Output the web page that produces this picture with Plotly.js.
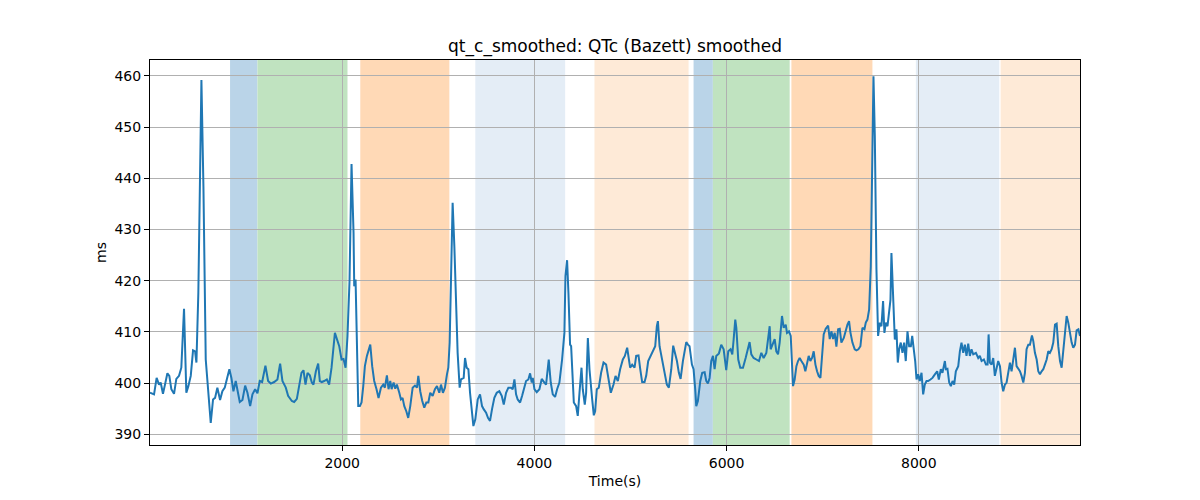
<!DOCTYPE html>
<html>
<head>
<meta charset="utf-8">
<script src="https://cdn.plot.ly/plotly-3.0.1.min.js"></script>
<style>
  body { margin: 0; background: #fff; }
  #myGraph { width: 1200px; height: 500px; }
</style>
</head>
<body>
<div id="myGraph"></div>
<script>
// time axis (s) and smoothed QTc (ms)
let timeS = [
  0, 42, 69, 94, 111, 135, 156, 181, 201, 222, 250, 274, 302, 326, 354, 378, 399, 424, 448, 469,
  483, 503, 535, 556, 580, 604, 632, 656, 677, 701, 729, 753, 778, 799, 826, 847, 868, 892, 913, 934,
  962, 990, 1014, 1042, 1066, 1094, 1118, 1142, 1167, 1201, 1229, 1257, 1292, 1326, 1354, 1378, 1413, 1437, 1476, 1500,
  1528, 1552, 1576, 1597, 1618, 1639, 1663, 1684, 1701, 1726, 1750, 1767, 1788, 1812, 1840, 1864, 1889, 1924, 1944, 1969,
  1993, 2014, 2035, 2055, 2076, 2097, 2118, 2125, 2139, 2153, 2167, 2184, 2201, 2219, 2236, 2257, 2281, 2292, 2312, 2333,
  2357, 2378, 2403, 2427, 2444, 2465, 2482, 2500, 2514, 2535, 2552, 2569, 2594, 2611, 2628, 2646, 2667, 2687, 2708, 2733,
  2757, 2778, 2792, 2812, 2833, 2854, 2875, 2896, 2916, 2941, 2965, 2986, 3010, 3028, 3048, 3069, 3090, 3104, 3118, 3132,
  3149, 3167, 3184, 3201, 3222, 3236, 3264,
  3278, 3295, 3313, 3330, 3347, 3365, 3385, 3410, 3434, 3455, 3472, 3497, 3517, 3538, 3559, 3583, 3608, 3635, 3660, 3681,
  3705, 3729, 3757, 3774, 3792, 3809, 3826, 3851, 3872, 3889, 3913, 3937, 3955, 3972, 3983, 4000, 4024, 4052, 4076, 4104,
  4121, 4149, 4170, 4191, 4215, 4236, 4260, 4288, 4312, 4323, 4340, 4354, 4371, 4382, 4396, 4410, 4434, 4451, 4469, 4490,
  4503, 4524, 4538, 4556, 4573, 4587, 4601, 4618, 4632, 4649, 4670, 4694, 4719, 4746, 4771, 4795, 4823, 4844, 4868, 4892,
  4920, 4941, 4965, 4983, 4996, 5017, 5042, 5059, 5083, 5101, 5121, 5146, 5163, 5184, 5208, 5232, 5257, 5274, 5285, 5302,
  5326, 5354, 5378, 5399, 5424, 5444, 5465, 5483, 5503, 5521, 5545, 5562, 5580, 5597, 5614, 5639, 5656, 5673, 5684, 5701,
  5726, 5746, 5771, 5788, 5805, 5823, 5840, 5858, 5875, 5892, 5920, 5944, 5969, 5996, 6017, 6041, 6059, 6073, 6090, 6101,
  6121, 6142, 6170, 6198, 6222, 6239, 6257, 6281, 6309, 6337, 6361, 6385, 6413, 6430, 6448,
  6458, 6476, 6500, 6517, 6535, 6552, 6576, 6594, 6615, 6628, 6649, 6667, 6681, 6691, 6708, 6726, 6743, 6760, 6778, 6802,
  6819, 6837, 6854, 6871, 6889, 6906, 6924, 6941, 6958, 6976, 6993, 7010, 7031, 7056, 7073, 7090, 7108, 7125, 7142, 7160,
  7177, 7194, 7219, 7240, 7257, 7274, 7288, 7309, 7333, 7351, 7371, 7392, 7413, 7434, 7448, 7465, 7483, 7500, 7514, 7528,
  7542, 7559, 7576, 7594, 7611, 7628, 7642, 7656, 7674, 7691, 7705, 7715, 7726, 7740, 7750, 7767, 7781, 7795, 7812, 7830,
  7847, 7864, 7882, 7899, 7917, 7931, 7948, 7962, 7976, 7993, 8010, 8028, 8045, 8062, 8080, 8097, 8121, 8142, 8167, 8191,
  8208, 8229, 8246, 8271, 8281, 8298, 8316, 8333, 8351, 8368, 8385, 8410, 8427, 8444, 8462, 8479, 8496, 8514, 8531, 8548,
  8566, 8594, 8618, 8635, 8653, 8677, 8698, 8715, 8726, 8739, 8757, 8774, 8791, 8809, 8826, 8844, 8861, 8878, 8896, 8913,
  8930, 8948, 8965, 8982, 9000, 9017, 9035, 9052, 9069, 9087, 9104, 9121, 9139, 9156, 9177, 9191, 9208, 9226, 9243, 9260,
  9278, 9295, 9312, 9330, 9347, 9364, 9382, 9399, 9417, 9434, 9451, 9469, 9486, 9503, 9521, 9538, 9555, 9573, 9590, 9607,
  9625, 9642, 9660, 9677
];

let qtcMs = [
  398.1, 397.8, 401.0, 399.7, 400.1, 397.9, 399.7, 401.9, 401.4, 398.8, 397.9, 400.8, 401.4, 403.0, 414.5, 398.1, 399.4, 401.4, 406.4, 406.2,
  404.0, 417.6, 459.2, 438.4, 404.6, 398.1, 392.2, 396.8, 397.1, 399.1, 396.7, 398.4, 399.1, 400.7, 402.7, 401.0, 398.4, 400.4, 398.1, 396.3,
  396.7, 399.5, 398.1, 395.5, 397.8, 398.8, 398.0, 400.4, 400.2, 403.4, 400.4, 399.9, 400.2, 400.7, 403.8, 400.4, 399.1, 397.5, 396.5, 396.3,
  396.9, 399.4, 402.0, 402.5, 399.7, 402.0, 401.5, 400.1, 399.7, 402.3, 403.8, 400.4, 400.2, 400.4, 400.7, 399.7, 403.0, 409.8, 408.5, 407.2,
  404.6, 404.7, 403.0, 409.2, 419.9, 442.8, 429.3, 418.9, 420.2, 408.5, 395.5, 395.5, 396.2, 399.4, 403.3, 405.3, 407.2, 407.5, 403.3, 400.4,
  398.8, 397.1, 399.1, 399.7, 399.1, 401.5, 398.8, 400.4, 398.8, 400.1, 398.9, 399.7, 398.1, 396.8, 397.1, 395.5, 394.5, 393.2, 395.5, 399.1,
  399.5, 399.1, 401.4, 398.4, 396.5, 395.2, 396.2, 396.2, 398.1, 397.5, 398.8, 399.4, 398.1, 399.7, 398.1, 399.1, 401.7, 403.0, 407.9, 420.2,
  435.2, 426.7, 417.6, 405.9, 399.1, 400.7, 401.0,
  404.9, 403.0, 402.7, 398.1, 394.2, 391.6, 392.9, 396.8, 397.8, 395.5, 394.9, 394.2, 393.2, 392.6, 394.9, 397.1, 398.1, 398.4, 397.5, 395.8,
  398.1, 399.1, 399.1, 398.8, 400.7, 397.8, 396.8, 396.2, 397.5, 398.8, 400.4, 400.7, 401.9, 400.1, 401.0, 398.8, 398.2, 398.8, 400.8, 400.1,
  399.7, 404.6, 400.1, 397.8, 397.3, 398.8, 400.1, 404.6, 409.8, 420.9, 424.0, 417.6, 407.5, 407.2, 401.4, 396.2, 395.5, 393.6, 398.1, 403.0,
  398.8, 395.8, 398.1, 408.8, 402.7, 398.8, 396.8, 393.7, 394.5, 398.8, 399.1, 402.0, 404.0, 403.6, 400.7, 398.1, 399.7, 401.4, 400.4, 402.7,
  404.6, 405.3, 406.9, 404.3, 403.0, 403.6, 403.0, 405.3, 405.4, 402.7, 400.2, 400.2, 401.4, 404.3, 405.3, 406.0, 407.2, 411.1, 412.1, 407.2,
  404.6, 401.7, 399.7, 399.1, 402.7, 407.3, 405.9, 404.3, 402.0, 400.8, 404.3, 406.6, 408.0, 407.5, 407.2, 403.6, 402.7, 398.8, 395.5, 396.5,
  400.4, 402.0, 402.1, 400.4, 399.9, 401.0, 404.3, 405.3, 402.7, 405.3, 405.8, 407.5, 406.6, 402.5, 406.2, 406.6, 405.6, 408.5, 412.4, 410.8,
  404.6, 403.0, 403.0, 404.9, 406.6, 408.0, 405.6, 404.9, 404.6, 404.3, 405.9, 404.9, 405.9, 408.5, 411.1,
  406.6, 407.5, 408.6, 406.2, 405.6, 407.9, 413.1, 410.8, 411.4, 409.8, 410.1, 409.2, 401.4, 399.4, 400.7, 403.3, 404.3, 404.9, 404.3, 403.6,
  402.3, 404.0, 405.3, 404.3, 404.9, 406.2, 403.6, 402.3, 401.4, 401.0, 404.6, 409.5, 410.6, 411.2, 408.6, 410.1, 408.6, 409.8, 407.1, 410.5,
  410.6, 407.9, 408.8, 410.5, 411.4, 412.1, 409.9, 407.9, 406.6, 406.4, 406.6, 407.2, 410.8, 410.5, 411.8, 412.4, 414.4, 422.8, 443.6, 459.9,
  448.2, 422.2, 409.2, 411.8, 411.1, 416.0, 409.8, 411.8, 411.1, 414.0, 416.3, 425.4, 418.9, 411.1, 408.5, 410.5, 404.0, 406.6, 407.9, 405.9,
  407.9, 404.3, 410.1, 407.2, 407.2, 409.2, 406.6, 404.3, 400.7, 401.7, 400.4, 402.0, 397.8, 399.7, 400.4, 400.4, 400.7, 401.0, 401.7, 402.3,
  400.7, 402.7, 402.0, 404.3, 402.7, 402.8, 400.1, 399.4, 400.4, 399.7, 402.3, 403.3, 406.2, 407.9, 405.9, 407.5, 405.3, 407.7, 405.3, 406.6,
  405.6, 405.9, 404.9, 405.3, 404.3, 404.6, 403.6, 403.6, 409.5, 404.0, 403.6, 404.9, 401.4, 403.3, 404.3, 403.3, 400.1, 398.4, 399.7, 400.1,
  402.3, 404.0, 402.3, 404.3, 406.9, 403.3, 402.7, 402.3, 401.4, 400.1, 402.0, 406.6, 407.5, 407.5, 409.3, 408.2, 405.9, 404.6, 402.3, 401.7,
  402.3, 402.7, 403.6, 404.6, 406.2, 405.9, 406.6, 407.9, 411.4, 411.6, 407.2, 404.3, 403.0, 405.9, 410.1, 413.1, 411.8, 409.5, 407.9, 406.9,
  407.5, 410.3, 410.5, 409.2
];

// shaded segments (s) and their colour group
let spanStart = [833, 1118, 2188, 3385, 4625, 5656, 5857, 6674, 7969, 8851];
let spanEnd   = [1118, 2055, 3115, 4320, 5604, 5857, 6656, 7517, 8837, 9677];
let spanKind  = ['blue', 'green', 'orange', 'lightblue', 'lightorange',
                 'blue', 'green', 'orange', 'lightblue', 'lightorange'];

let spanColors = {
  blue: 'rgb(186,212,232)',
  green: 'rgb(192,227,192)',
  orange: 'rgb(255,217,182)',
  lightblue: 'rgb(228,237,246)',
  lightorange: 'rgb(254,234,215)'
};

let shapes = spanStart.map((s, i) => ({
  type: 'rect',
  xref: 'x',
  yref: 'paper',
  x0: s,
  x1: spanEnd[i],
  y0: 0,
  y1: 1,
  fillcolor: spanColors[spanKind[i]],
  line: { width: 0 },
  layer: 'below'
}));

let trace = {
  type: 'scatter',
  mode: 'lines',
  x: timeS,
  y: qtcMs,
  line: { color: '#1f77b4', width: 2 },
  hoverinfo: 'x+y'
};

let axisStyle = {
  showgrid: true,
  gridcolor: '#b0b0b0',
  gridwidth: 1,
  zeroline: false,
  showline: true,
  mirror: true,
  linecolor: '#000',
  linewidth: 1,
  ticks: 'outside',
  ticklen: 5,
  tickwidth: 1,
  tickcolor: '#000',
  tickfont: { size: 14, color: '#000' }
};

let layout = {
  width: 1200,
  height: 500,
  margin: { l: 150, r: 120, t: 60, b: 55 },
  paper_bgcolor: '#fff',
  plot_bgcolor: '#fff',
  font: { family: 'DejaVu Sans', color: '#000' },
  showlegend: false,
  title: {
    text: 'qt_c_smoothed: QTc (Bazett) smoothed',
    font: { size: 17, color: '#000' },
    x: 0.5125,
    xanchor: 'center',
    yref: 'container',
    y: 0.908,
    yanchor: 'middle'
  },
  xaxis: Object.assign({}, axisStyle, {
    range: [0, 9677],
    tickvals: [2000, 4000, 6000, 8000],
    title: { text: 'Time(s)', font: { size: 14 }, standoff: 6 }
  }),
  yaxis: Object.assign({}, axisStyle, {
    range: [387.9, 463.1],
    tick0: 390,
    dtick: 10,
    title: { text: 'ms', font: { size: 14 }, standoff: 4 }
  }),
  shapes: shapes
};

Plotly.newPlot('myGraph', [trace], layout, { staticPlot: true });
</script>
</body>
</html>
